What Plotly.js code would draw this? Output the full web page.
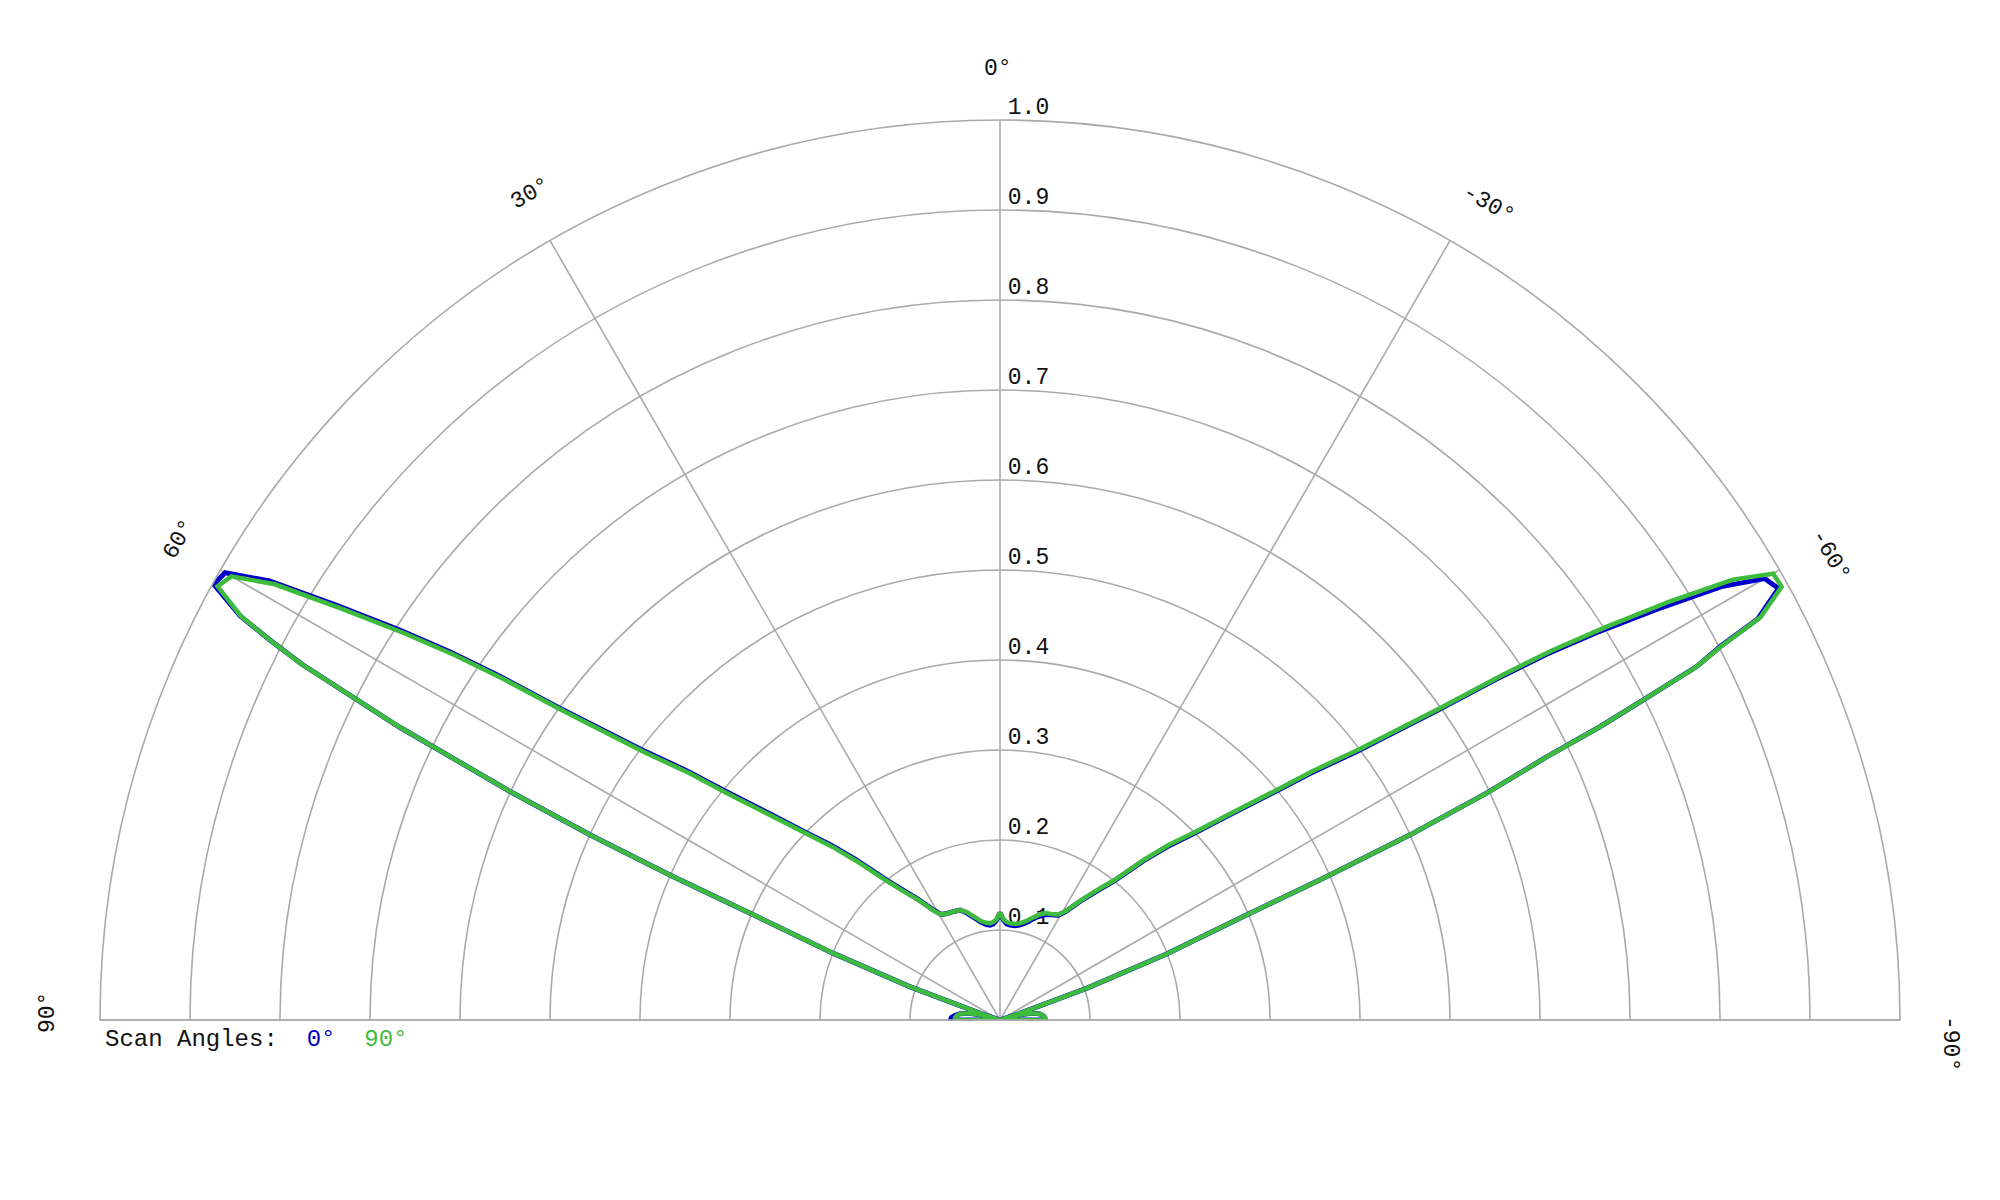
<!DOCTYPE html>
<html>
<head>
<meta charset="utf-8">
<script src="https://cdn.plot.ly/plotly-3.0.1.min.js"></script>
<style>
  body { margin: 0; background: #ffffff; }
  #myChart { width: 2000px; height: 1200px; }
</style>
</head>
<body>
<div id="myChart"></div>
<script>
// angle of each sample (degrees, 0 = broadside, + to the left)
const theta_deg = [-90,-87,-84,-81,-78,-75,-72.5,-71.5,-69.9,-68.4,-67,-66.3,-65.7,-65,-64.3,-63.95,-63.55,-63.1,-62.6,-62.1,-61,
    -60,-59,-58,-57,-56.2,-55.5,-54.7,-53,-51.5,-50.3,-48,-46,-44,-42,-39.3,-37,-34,-31,-29,-26,-23,-20,-17,-15,-12,-9,-6,-4,-2,
    0,2,4,6,8,11,14,17,20,23,26,29,31,34,37,39,42,44,46,48,50.3,51.5,53,54.7,55.5,56.2,57,58,59,60,61,62,62.5,63,64,65,
    65.7,66.3,66.9,68.2,69.7,71.5,72.5,75,78,81,84,87,90];

// scan angle 0 deg
const r_scan0 = [0.050,0.050,0.048,0.044,0.036,0.022,0.003,0.023,0.103,0.199,0.290,0.396,0.500,0.597,0.674,0.742,0.798,0.868,0.901,0.953,0.989,
    0.981,0.935,0.862,0.790,0.730,0.668,0.595,0.495,0.440,0.397,0.337,0.297,0.268,0.238,0.199,0.180,0.159,0.140,0.133,0.130,0.127,0.122,0.116,0.112,0.108,0.106,0.106,0.107,0.111,
    0.119,0.111,0.107,0.106,0.107,0.111,0.117,0.124,0.130,0.131,0.132,0.134,0.142,0.161,0.182,0.200,0.240,0.270,0.300,0.340,0.400,0.445,0.500,0.600,0.675,0.735,0.796,0.870,0.947,0.994,0.999,0.956,0.915,0.870,0.742,0.600,
    0.500,0.400,0.300,0.200,0.107,0.023,0.003,0.022,0.036,0.045,0.050,0.054,0.055];

// scan angle 90 deg
const r_scan90 = [0.050,0.050,0.048,0.044,0.036,0.022,0.003,0.023,0.103,0.199,0.290,0.396,0.500,0.597,0.674,0.742,0.798,0.868,0.903,0.956,0.993,
    0.992,0.950,0.878,0.800,0.738,0.675,0.601,0.500,0.445,0.401,0.340,0.300,0.271,0.240,0.201,0.182,0.160,0.141,0.134,0.131,0.129,0.124,0.118,0.114,0.110,0.108,0.108,0.109,0.112,
    0.119,0.112,0.109,0.108,0.109,0.112,0.118,0.125,0.130,0.131,0.132,0.134,0.141,0.160,0.180,0.198,0.237,0.267,0.297,0.336,0.395,0.440,0.494,0.593,0.668,0.728,0.789,0.862,0.940,0.986,0.994,0.955,0.915,0.870,0.742,0.600,
    0.500,0.400,0.300,0.200,0.107,0.023,0.003,0.022,0.036,0.044,0.048,0.050,0.050];

const radial_ticks = [0.1,0.2,0.3,0.4,0.5,0.6,0.7,0.8,0.9,1.0];
const angle_ticks = [-90,-60,-30,0,30,60,90];
const angle_labels = ['-90°','-60°','-30°','0°','30°','60°','90°'];

const FONT = 'Courier New, Liberation Mono, monospace';
const GRID = '#aaaaaa';
const BLUE = '#0000cc';
const GREEN = '#3dbb3d';

// pixel spot (centre of text) and rotation for each angle label
const label_spots = {
    '-90°': [1950, 1043, 90],
    '-60°': [1830, 555, 60],
    '-30°': [1488, 204, 30],
    '0°':   [998, 69, 0],
    '30°':  [530, 194, -30],
    '60°':  [179, 540, -60],
    '90°':  [48, 1013, -90]
};

function closed(arr) {
    return arr.concat([arr[0]]);
}

// small gap so the tick text sits a bit right of the 0 deg line
const PAD = '<span style="font-size:13px">\u00a0</span>';

const tick_trace = {
    type: 'scatterpolar',
    mode: 'text',
    r: radial_ticks,
    theta: radial_ticks.map(() => 0),
    text: radial_ticks.map(v => PAD + v.toFixed(1)),
    textposition: 'top right',
    textfont: { family: FONT, size: 23, color: '#111111' },
    cliponaxis: false,
    hoverinfo: 'skip',
    showlegend: false
};

const trace_blue = {
    type: 'scatterpolar',
    mode: 'lines',
    r: closed(r_scan0),
    theta: closed(theta_deg),
    line: { color: BLUE, width: 5 },
    name: '0°',
    showlegend: false
};

const trace_green = {
    type: 'scatterpolar',
    mode: 'lines',
    r: closed(r_scan90),
    theta: closed(theta_deg),
    line: { color: GREEN, width: 4.5 },
    name: '90°',
    showlegend: false
};

let annotations = angle_labels.map(t => ({
    text: t,
    xref: 'paper', yref: 'paper',
    x: label_spots[t][0] / 2000,
    y: 1 - label_spots[t][1] / 1200,
    xanchor: 'center', yanchor: 'middle',
    textangle: label_spots[t][2],
    showarrow: false,
    font: { family: FONT, size: 23, color: '#111111' }
}));

annotations.push({
    text: 'Scan Angles:\u00a0\u00a0<span style="color:' + BLUE + '">0°</span>\u00a0\u00a0<span style="color:' + GREEN + '">90°</span>',
    xref: 'paper', yref: 'paper',
    x: 103 / 2000,
    y: 1 - 1039 / 1200,
    xanchor: 'left', yanchor: 'middle',
    showarrow: false,
    font: { family: FONT, size: 24, color: '#111111' }
});

const layout = {
    width: 2000,
    height: 1200,
    margin: { t: 0, b: 0, l: 0, r: 0 },
    paper_bgcolor: '#ffffff',
    showlegend: false,
    polar: {
        domain: { x: [0.05, 0.95], y: [0.15, 0.9] },
        sector: [0, 180],
        bgcolor: '#ffffff',
        angularaxis: {
            rotation: 90,
            direction: 'counterclockwise',
            tickmode: 'array',
            tickvals: angle_ticks,
            showticklabels: false,
            ticks: '',
            showgrid: true,
            gridcolor: GRID,
            gridwidth: 1.6,
            showline: true,
            linecolor: GRID,
            linewidth: 1.6
        },
        radialaxis: {
            range: [0, 1],
            angle: 90,
            tickmode: 'array',
            tickvals: radial_ticks,
            showticklabels: false,
            ticks: '',
            showgrid: true,
            gridcolor: GRID,
            gridwidth: 1.6,
            showline: false
        }
    },
    annotations: annotations
};

Plotly.newPlot('myChart', [tick_trace, trace_blue, trace_green], layout, { staticPlot: true });
</script>
</body>
</html>
